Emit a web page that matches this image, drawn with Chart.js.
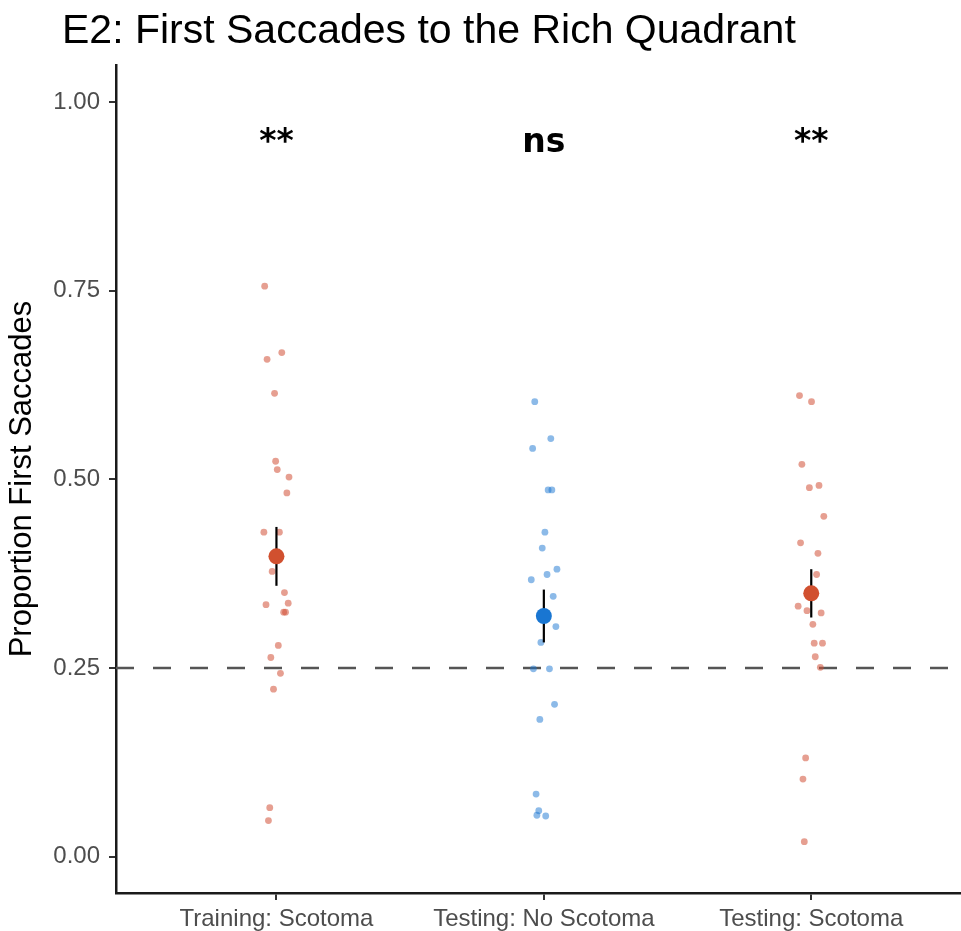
<!DOCTYPE html>
<html>
<head>
<meta charset="utf-8">
<script src="https://cdn.jsdelivr.net/npm/chart.js@4"></script>
<style>
  body { margin: 0; background: #fff; }
  #chart { display: block; }
</style>
</head>
<body>
<canvas id="chart" width="961" height="931"></canvas>
<script>
// data
const categories = ['Training: Scotoma', 'Testing: No Scotoma', 'Testing: Scotoma'];
const yTicks = [0, 0.25, 0.5, 0.75, 1];
const chance = 0.25;

const trainScotoma = [0.756, 0.668, 0.659, 0.614, 0.524, 0.513, 0.503, 0.482, 0.430, 0.430, 0.378,
  0.350, 0.336, 0.334, 0.324, 0.324, 0.280, 0.264, 0.243, 0.222, 0.065, 0.048];
const trainJitter = [-0.044, 0.020, -0.035, -0.007, -0.003, 0.003, 0.047, 0.039, -0.047, 0.011, -0.016,
  0.030, 0.044, -0.039, 0.027, 0.034, 0.007, -0.021, 0.015, -0.011, -0.025, -0.030];

const testNoScotoma = [0.603, 0.554, 0.541, 0.486, 0.486, 0.430, 0.409, 0.381, 0.374, 0.367, 0.345,
  0.305, 0.284, 0.249, 0.249, 0.202, 0.182, 0.083, 0.061, 0.055, 0.054];
const noScotomaJitter = [-0.034, 0.026, -0.042, 0.016, 0.030, 0.004, -0.006, 0.049, 0.012, -0.047, 0.035,
  0.045, -0.011, -0.039, 0.021, 0.040, -0.015, -0.029, -0.019, -0.026, 0.007];

const testScotoma = [0.611, 0.603, 0.520, 0.492, 0.489, 0.451, 0.416, 0.402, 0.374, 0.332, 0.326,
  0.323, 0.308, 0.283, 0.283, 0.265, 0.251, 0.131, 0.103, 0.020];
const scotomaJitter = [-0.044, 0.001, -0.035, 0.029, -0.007, 0.047, -0.040, 0.025, 0.020, -0.049, -0.016,
  0.037, 0.006, 0.011, 0.042, 0.015, 0.034, -0.021, -0.031, -0.026];

const means = [0.398, 0.319, 0.349];
const errors = [0.039, 0.035, 0.032];
const signif = ['**', 'ns', '**'];

const RED = '#d1502f';
const RED_LIGHT = 'rgba(210, 80, 55, 0.55)';
const BLUE = '#1976d2';
const BLUE_LIGHT = 'rgba(25, 118, 210, 0.5)';
const pointColors = [RED_LIGHT, BLUE_LIGHT, RED_LIGHT];
const meanColors = [RED, BLUE, RED];

const groups = [
  { values: trainScotoma, jitter: trainJitter },
  { values: testNoScotoma, jitter: noScotomaJitter },
  { values: testScotoma, jitter: scotomaJitter }
];

const datasets = [];

// mean points on top
datasets.push({
  type: 'scatter',
  data: means.map((m, i) => ({ x: i + 1, y: m })),
  pointRadius: 8,
  pointBackgroundColor: meanColors,
  pointBorderWidth: 0,
  order: 0
});

// error bars
means.forEach((m, i) => {
  datasets.push({
    type: 'line',
    data: [{ x: i + 1, y: m - errors[i] }, { x: i + 1, y: m + errors[i] }],
    borderColor: '#000',
    borderWidth: 2.2,
    pointRadius: 0,
    order: 1
  });
});

// individual participants (jittered)
groups.forEach((g, i) => {
  datasets.push({
    type: 'scatter',
    data: g.values.map((v, k) => ({ x: i + 1 + g.jitter[k], y: v })),
    pointRadius: 3.4,
    pointBackgroundColor: pointColors[i],
    pointBorderWidth: 0,
    order: 2
  });
});

// chance level
const xMin = 0.4, xMax = 3.56;
datasets.push({
  type: 'line',
  data: [{ x: xMin, y: chance }, { x: xMax, y: chance }],
  borderColor: '#555',
  borderWidth: 2.6,
  borderDash: [18, 19],
  pointRadius: 0,
  order: 3
});

const textPlugin = {
  id: 'texts',
  afterDraw(chart) {
    const ctx = chart.ctx;
    const xs = chart.scales.x, ys = chart.scales.y;
    ctx.save();
    ctx.fillStyle = '#000';
    ctx.font = '41px "Liberation Sans", Arial, sans-serif';
    ctx.textAlign = 'left';
    ctx.textBaseline = 'alphabetic';
    ctx.fillText('E2: First Saccades to the Rich Quadrant', 62, 43);

    ctx.font = 'bold 33px "DejaVu Sans", sans-serif';
    ctx.textAlign = 'center';
    signif.forEach((s, i) => {
      ctx.fillText(s, xs.getPixelForValue(i + 1), ys.getPixelForValue(0.934));
    });
    ctx.restore();
  }
};

new Chart(document.getElementById('chart'), {
  type: 'scatter',
  data: { datasets },
  options: {
    responsive: false,
    animation: false,
    layout: { autoPadding: false, padding: { top: 65, left: 0, right: 0, bottom: 0 } },
    plugins: { legend: { display: false }, tooltip: { enabled: false }, title: { display: false } },
    scales: {
      x: {
        type: 'linear',
        min: xMin,
        max: xMax,
        afterBuildTicks: s => { s.ticks = categories.map((c, i) => ({ value: i + 1 })); },
        afterFit: s => { s.height = 38; },
        ticks: {
          callback: v => categories[v - 1] || '',
          color: '#4d4d4d',
          font: { family: '"Liberation Sans", Arial, sans-serif', size: 24 },
          padding: 5,
          maxRotation: 0,
          autoSkip: false
        },
        grid: { drawOnChartArea: false, drawTicks: true, tickLength: 7, color: '#333', lineWidth: 2 },
        border: { display: true, color: '#1a1a1a', width: 2.5 }
      },
      y: {
        type: 'linear',
        min: -0.048,
        max: 1.049,
        afterBuildTicks: s => { s.ticks = yTicks.map(v => ({ value: v })); },
        afterFit: s => { s.width = 116; },
        ticks: {
          callback: v => v.toFixed(2),
          color: '#4d4d4d',
          font: { family: '"Liberation Sans", Arial, sans-serif', size: 24 },
          padding: 9
        },
        grid: { drawOnChartArea: false, drawTicks: true, tickLength: 7, color: '#333', lineWidth: 2 },
        border: { display: true, color: '#1a1a1a', width: 2.5 },
        title: {
          display: true,
          text: 'Proportion First Saccades',
          color: '#000',
          font: { family: '"Liberation Sans", Arial, sans-serif', size: 31 },
          padding: { top: 4, bottom: 0 }
        }
      }
    }
  },
  plugins: [textPlugin]
});
</script>
</body>
</html>
